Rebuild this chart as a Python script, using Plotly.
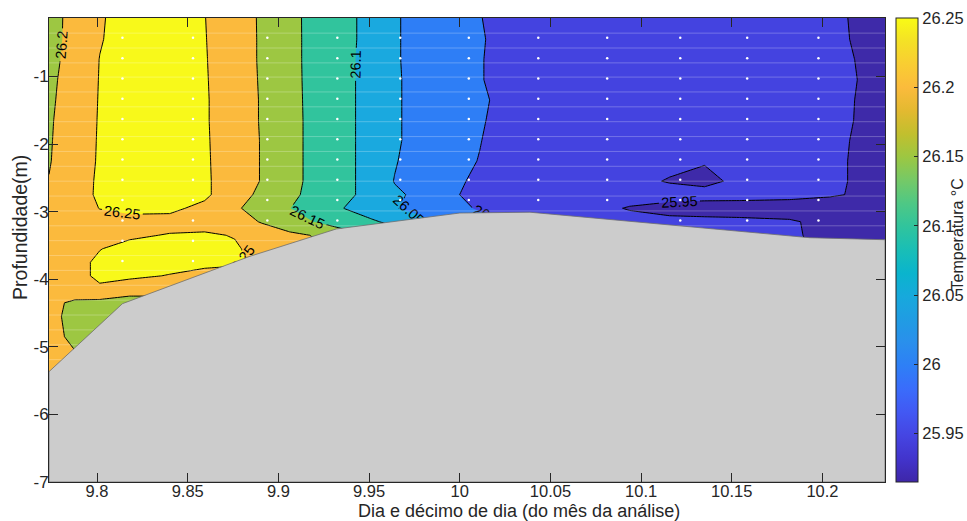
import plotly.graph_objects as go

# ---------------- data ----------------
dias = [9.7735, 9.7877, 9.8015, 9.8180, 9.8401, 9.8593, 9.8759, 9.8908, 9.9062,
        9.9228, 9.9366, 9.9515, 9.9641, 9.9779, 9.9944, 10.0110, 10.0330, 10.0661,
        10.0937, 10.1157, 10.1350, 10.1543, 10.1819, 10.2040, 10.2205, 10.2345]

profundidades = [-0.10, -0.45, -0.75, -1.05, -1.35, -1.65, -1.95, -2.25, -2.55, -2.75,
                 -2.95, -3.15, -3.35, -3.55, -3.75, -3.95, -4.15, -4.35, -4.55, -4.85,
                 -5.15, -5.45]

temperatura = [
    [26.185, 26.213, 26.245, 26.270, 26.275, 26.251, 26.220, 26.195, 26.163, 26.130, 26.112, 26.085, 26.058, 26.025, 26.013, 26.001, 25.983, 25.975, 25.970, 25.967, 25.965, 25.962, 25.958, 25.953, 25.948, 25.935],
    [26.185, 26.214, 26.247, 26.270, 26.275, 26.252, 26.222, 26.195, 26.163, 26.1305, 26.112, 26.085, 26.058, 26.025, 26.015, 26.003, 25.983, 25.975, 25.970, 25.967, 25.965, 25.962, 25.958, 25.954, 25.948, 25.935],
    [26.189, 26.214, 26.251, 26.270, 26.275, 26.253, 26.222, 26.195, 26.163, 26.1305, 26.110, 26.085, 26.058, 26.025, 26.013, 26.002, 25.983, 25.975, 25.970, 25.967, 25.965, 25.962, 25.958, 25.955, 25.949, 25.936],
    [26.192, 26.216, 26.252, 26.272, 26.277, 26.254, 26.222, 26.196, 26.164, 26.130, 26.110, 26.085, 26.060, 26.025, 26.013, 26.002, 25.983, 25.975, 25.970, 25.967, 25.965, 25.962, 25.958, 25.956, 25.9495, 25.937],
    [26.194, 26.217, 26.253, 26.273, 26.278, 26.255, 26.222, 26.197, 26.165, 26.130, 26.110, 26.085, 26.060, 26.025, 26.015, 26.005, 25.985, 25.976, 25.971, 25.968, 25.966, 25.963, 25.959, 25.955, 25.949, 25.937],
    [26.196, 26.218, 26.254, 26.274, 26.278, 26.255, 26.222, 26.197, 26.166, 26.130, 26.110, 26.085, 26.060, 26.025, 26.014, 26.003, 25.984, 25.976, 25.971, 25.967, 25.964, 25.962, 25.958, 25.954, 25.949, 25.936],
    [26.197, 26.219, 26.255, 26.274, 26.278, 26.256, 26.222, 26.198, 26.166, 26.130, 26.110, 26.085, 26.060, 26.025, 26.012, 26.001, 25.982, 25.975, 25.969, 25.964, 25.960, 25.958, 25.956, 25.953, 25.9485, 25.935],
    [26.198, 26.220, 26.256, 26.275, 26.278, 26.257, 26.222, 26.198, 26.166, 26.130, 26.110, 26.085, 26.054, 26.025, 26.010, 25.999, 25.980, 25.972, 25.966, 25.958, 25.952, 25.955, 25.955, 25.953, 25.948, 25.935],
    [26.201, 26.225, 26.258, 26.276, 26.278, 26.258, 26.222, 26.198, 26.166, 26.130, 26.110, 26.085, 26.048, 26.022, 26.006, 25.995, 25.978, 25.968, 25.958, 25.948, 25.943, 25.956, 25.955, 25.953, 25.948, 25.935],
    [26.205, 26.228, 26.258, 26.276, 26.275, 26.258, 26.222, 26.189, 26.162, 26.128, 26.110, 26.085, 26.058, 26.040, 26.005, 25.990, 25.975, 25.966, 25.962, 25.962, 25.960, 25.960, 25.958, 25.953, 25.947, 25.934],
    [26.210, 26.230, 26.251, 26.262, 26.258, 26.240, 26.205, 26.185, 26.151, 26.125, 26.099, 26.080, 26.052, 26.040, 26.010, 25.997, 25.980, 25.962, 25.948, 25.940, 25.938, 25.937, 25.936, 25.935, 25.930, 25.925],
    [26.215, 26.230, 26.235, 26.235, 26.238, 26.235, 26.220, 26.197, 26.170, 26.145, 26.125, 26.105, 26.090, 26.060, 26.030, 26.010, 25.990, 25.970, 25.960, 25.958, 25.957, 25.956, 25.953, 25.942, 25.930, 25.922],
    [26.220, 26.235, 26.240, 26.245, 26.252, 26.255, 26.248, 26.225, 26.210, 26.195, 26.170, 26.140, 26.120, 26.090, 26.060, 26.030, 26.001, 25.980, 25.965, 25.960, 25.958, 25.956, 25.955, 25.940, 25.930, 25.920],
    [26.222, 26.238, 26.249, 26.260, 26.265, 26.262, 26.255, 26.235, 26.220, 26.205, 26.190, 26.170, 26.152, 26.120, 26.090, 26.060, 26.030, 26.002, 25.980, 25.970, 25.965, 25.960, 25.955, 25.945, 25.935, 25.925],
    [26.225, 26.240, 26.256, 26.265, 26.265, 26.262, 26.258, 26.240, 26.225, 26.210, 26.195, 26.180, 26.160, 26.130, 26.100, 26.070, 26.040, 26.010, 25.990, 25.980, 25.970, 25.965, 25.960, 25.952, 25.940, 25.930],
    [26.225, 26.240, 26.256, 26.258, 26.248, 26.235, 26.230, 26.225, 26.215, 26.201, 26.190, 26.175, 26.160, 26.140, 26.110, 26.080, 26.052, 26.020, 26.001, 25.990, 25.980, 25.975, 25.970, 25.960, 25.951, 25.940],
    [26.225, 26.235, 26.245, 26.225, 26.215, 26.210, 26.210, 26.210, 26.210, 26.205, 26.190, 26.175, 26.160, 26.140, 26.110, 26.080, 26.052, 26.020, 26.001, 25.990, 25.980, 25.975, 25.970, 25.960, 25.951, 25.940],
    [26.215, 26.190, 26.185, 26.175, 26.185, 26.190, 26.195, 26.198, 26.198, 26.195, 26.190, 26.175, 26.160, 26.140, 26.110, 26.080, 26.052, 26.020, 26.001, 25.990, 25.980, 25.975, 25.970, 25.960, 25.951, 25.940],
    [26.214, 26.185, 26.175, 26.170, 26.170, 26.175, 26.180, 26.185, 26.190, 26.190, 26.185, 26.170, 26.160, 26.140, 26.110, 26.080, 26.052, 26.020, 26.001, 25.990, 25.980, 25.975, 25.970, 25.960, 25.951, 25.940],
    [26.215, 26.190, 26.180, 26.170, 26.170, 26.175, 26.180, 26.185, 26.190, 26.190, 26.185, 26.170, 26.160, 26.140, 26.110, 26.080, 26.052, 26.020, 26.001, 25.990, 25.980, 25.975, 25.970, 25.960, 25.951, 25.940],
    [26.220, 26.205, 26.190, 26.180, 26.175, 26.175, 26.180, 26.185, 26.190, 26.190, 26.185, 26.170, 26.160, 26.140, 26.110, 26.080, 26.052, 26.020, 26.001, 25.990, 25.980, 25.975, 25.970, 25.960, 25.951, 25.940],
    [26.220, 26.210, 26.198, 26.185, 26.175, 26.175, 26.180, 26.185, 26.190, 26.190, 26.185, 26.170, 26.160, 26.140, 26.110, 26.080, 26.052, 26.020, 26.001, 25.990, 25.980, 25.975, 25.970, 25.960, 25.951, 25.940],
]

# bottom (bathymetry) outline
fundo_x = [9.7735, 9.8140, 9.8841, 9.9319, 10.0000, 10.0387, 10.1930, 10.2345]
fundo_y = [-5.368, -4.362, -3.663, -3.257, -3.021, -3.009, -3.386, -3.416]

# measurement stations (white dots)
estacoes_x = [9.8140, 9.8529, 9.8939, 9.9325, 9.9672, 10.0050, 10.0433, 10.0813,
              10.1216, 10.1585, 10.1978]
n_medidas = [12, 12, 10, 10, 9, 9, 9, 9, 10, 10, 10]
prof_medidas = [-0.43, -0.73, -1.03, -1.33, -1.63, -1.93, -2.23, -2.53, -2.83,
                -3.13, -3.43, -3.73]

# faint horizontal artefact lines
linhas_y = [-0.36, -0.58, -0.80, -1.01, -1.23, -1.45, -1.67, -1.89, -2.11, -2.33,
            -2.55, -2.77, -2.99, -3.21, -3.43, -3.65, -3.87, -4.09, -4.31, -4.53,
            -4.75, -4.97, -5.19]

x_ticks = [9.8, 9.85, 9.9, 9.95, 10.0, 10.05, 10.1, 10.15, 10.2]
x_ticktext = ["9.8", "9.85", "9.9", "9.95", "10", "10.05", "10.1", "10.15", "10.2"]
y_ticks = [-7, -6, -5, -4, -3, -2, -1]
y_ticktext = ["-7", "-6", "-5", "-4", "-3", "-2", "-1"]
cb_ticks = [25.95, 26.0, 26.05, 26.1, 26.15, 26.2, 26.25]
cb_ticktext = ["25.95", "26", "26.05", "26.1", "26.15", "26.2", "26.25"]
cb_min, cb_max = 25.915, 26.25

# ---------------- styling ----------------
FONT = "Liberation Sans, Arial, Helvetica, sans-serif"
DARK = "#262626"

band_colors = ["#3E2AA9", "#4443E0", "#2E7EF6", "#1AA9DF",
               "#31C49D", "#9DC742", "#FBBA3D", "#F8F91A"]
band_scale = [[i / 7, c] for i, c in enumerate(band_colors)]

parula = [
    [0.00, "#3E26A8"], [0.05, "#4234CC"], [0.10, "#4545E2"], [0.15, "#4258F3"],
    [0.20, "#3A6CFB"], [0.25, "#2E7FF6"], [0.30, "#2A8FEC"], [0.35, "#209CE3"],
    [0.40, "#17A9DC"], [0.45, "#0AB4CD"], [0.50, "#19BEB6"], [0.55, "#30C49D"],
    [0.60, "#4EC885"], [0.65, "#75C967"], [0.70, "#9CC742"], [0.75, "#C1BF2E"],
    [0.80, "#E3B930"], [0.85, "#FBBB3C"], [0.90, "#F9CD32"], [0.95, "#F4E126"],
    [1.00, "#F9FB15"],
]

fig = go.Figure()

fig.add_trace(go.Contour(
    x=dias, y=profundidades, z=temperatura,
    colorscale=band_scale, showscale=False,
    contours=dict(start=25.95, end=26.25, size=0.05, coloring="fill",
                  showlabels=True,
                  labelfont=dict(size=14.5, color="black", family=FONT)),
    line=dict(color="black", width=1, smoothing=0),
    hoverinfo="skip",
))

# faint horizontal lines
for yl in linhas_y:
    fig.add_trace(go.Scatter(
        x=[dias[0], dias[-1]], y=[yl, yl], mode="lines",
        line=dict(color="rgba(255,255,255,0.25)", width=1),
        hoverinfo="skip", showlegend=False))

# measurement points
px_, py_ = [], []
for xs, n in zip(estacoes_x, n_medidas):
    for d in prof_medidas[:n]:
        px_.append(xs)
        py_.append(d)
fig.add_trace(go.Scatter(
    x=px_, y=py_, mode="markers",
    marker=dict(color="white", size=2.5, line=dict(width=0)),
    hoverinfo="skip", showlegend=False))

# bottom mask
poly_x = fundo_x + [fundo_x[-1], fundo_x[0], fundo_x[0]]
poly_y = fundo_y + [-7, -7, fundo_y[0]]
fig.add_trace(go.Scatter(
    x=poly_x, y=poly_y, mode="lines", fill="toself",
    fillcolor="#CCCCCC", line=dict(color="#6E6E6E", width=0.8),
    hoverinfo="skip", showlegend=False))

# colorbar carrier
fig.add_trace(go.Scatter(
    x=[None], y=[None], mode="markers",
    marker=dict(color=[cb_min], colorscale=parula, cmin=cb_min, cmax=cb_max,
                showscale=True,
                colorbar=dict(
                    x=1.0136, xanchor="left", xref="paper",
                    y=0.5, yanchor="middle", len=1, lenmode="fraction",
                    thickness=22, thicknessmode="pixels",
                    outlinewidth=1, outlinecolor=DARK,
                    tickvals=cb_ticks, ticktext=cb_ticktext,
                    ticks="inside", ticklen=4, tickcolor=DARK,
                    tickfont=dict(size=16.5, color=DARK, family=FONT),
                    ypad=0, xpad=0)),
    hoverinfo="skip", showlegend=False))

axis_common = dict(showline=True, linecolor=DARK, linewidth=1, mirror="ticks",
                   ticks="inside", ticklen=9, tickcolor=DARK, showgrid=False,
                   zeroline=False, automargin=False)

fig.update_layout(
    width=967, height=521,
    margin=dict(l=49, r=82, t=18, b=39, autoexpand=False),
    paper_bgcolor="white", plot_bgcolor="white",
    showlegend=False,
    xaxis=dict(range=[9.7735, 10.2345], tickvals=x_ticks, ticktext=x_ticktext,
               ticklabelstandoff=-6,
               tickfont=dict(size=16.5, color=DARK, family=FONT), **axis_common),
    yaxis=dict(range=[-7, -0.136], tickvals=y_ticks, ticktext=y_ticktext,
               ticklabelstandoff=-4,
               tickfont=dict(size=17, color=DARK, family=FONT), **axis_common),
    annotations=[
        dict(text="Dia e décimo de dia (do mês da análise)", xref="paper", yref="paper",
             x=0.5624, y=-0.0622, xanchor="center", yanchor="middle", showarrow=False,
             font=dict(size=18, color=DARK, family=FONT)),
        dict(text="Profundidade(m)", xref="paper", yref="paper", textangle=-90,
             x=-0.0339, y=0.549, xanchor="center", yanchor="middle", showarrow=False,
             font=dict(size=19.5, color=DARK, family=FONT)),
        dict(text="Temperatura °C", xref="paper", yref="paper", textangle=-90,
             x=1.087, y=0.533, xanchor="center", yanchor="middle", showarrow=False,
             font=dict(size=16, color=DARK, family=FONT)),
    ],
)

fig.write_html("out.html",
               config={"displayModeBar": False},
               post_script="document.body.style.margin='0px';"
                           "document.body.style.overflow='hidden';")
